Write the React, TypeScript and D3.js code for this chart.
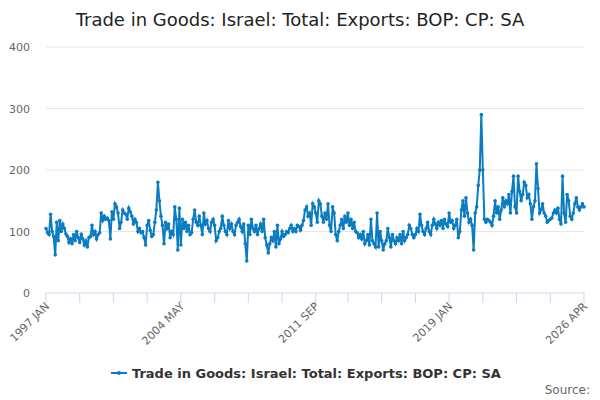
import { useMemo } from 'react';
import * as d3 from 'd3';

const startYear = 1997;
const yTicks = [0, 100, 200, 300, 400];
const tickLabels = ['1997 JAN', '2004 MAY', '2011 SEP', '2019 JAN', '2026 APR'];
const seriesName = 'Trade in Goods: Israel: Total: Exports: BOP: CP: SA';

// monthly values, one row per year
const values: number[] = [
  105, 98, 95, 128, 100, 92, 62, 115, 85, 118, 100, 112,
  105, 96, 92, 82, 88, 80, 95, 85, 100, 90, 82, 96,
  88, 78, 85, 75, 90, 92, 110, 95, 100, 88, 95, 98,
  130, 118, 125, 120, 122, 118, 88, 132, 120, 145, 140, 130,
  105, 115, 135, 130, 128, 120, 138, 132, 125, 112, 120, 115,
  100, 105, 98, 100, 90, 78, 110, 118, 102, 92, 95, 115,
  135, 180, 150, 125, 110, 80, 115, 105, 112, 90, 100, 95,
  140, 120, 70, 138, 78, 120, 105, 115, 100, 110, 95, 98,
  120, 135, 115, 110, 125, 110, 95, 130, 112, 118, 105, 100,
  115, 120, 110, 85, 90, 100, 105, 125, 110, 100, 95, 118,
  105, 112, 100, 95, 110, 115, 120, 108, 100, 112, 80, 52,
  110, 95, 120, 105, 100, 110, 95, 105, 112, 100, 120, 90,
  78, 65, 80, 90, 85, 100, 75, 110, 80, 88, 100, 92,
  95, 100, 98, 105, 110, 100, 105, 100, 110, 108, 102, 110,
  118, 135, 140, 125, 130, 110, 145, 140, 130, 115, 150, 145,
  125, 115, 130, 120, 145, 110, 100, 140, 130, 95, 85, 100,
  110, 120, 105, 125, 115, 130, 110, 120, 105, 115, 100, 98,
  90, 95, 88, 100, 80, 85, 95, 78, 120, 85, 80, 75,
  130, 75, 100, 85, 70, 80, 85, 105, 90, 75, 95, 85,
  80, 90, 85, 95, 80, 100, 85, 90, 95, 110, 105, 95,
  90, 95, 105, 100, 128, 110, 100, 95, 105, 115, 100, 95,
  110, 120, 112, 105, 115, 110, 118, 105, 120, 112, 108, 130,
  115, 118, 105, 110, 120, 90, 100, 135, 150, 125, 155, 130,
  115, 120, 110, 70, 130, 140, 175, 200, 290, 200, 120, 115,
  120, 118, 115, 110, 125, 150, 130, 140, 120, 135, 155, 140,
  150, 145, 160, 130, 165, 190, 140, 130, 190, 165, 150, 160,
  180, 175, 155, 160, 145, 120, 140, 150, 210, 170, 130, 135,
  145, 130, 125, 115, 118, 120, 122, 130, 135, 130, 138, 120,
  112, 190, 130, 115, 160, 150, 125, 120, 130, 145, 155, 140,
  135, 140, 145, 140,
];

const W = 600, H = 400;
const m = { top: 47, right: 16, bottom: 107, left: 46 };
const font = 'DejaVu Sans, sans-serif';

export default function App() {
  const n = values.length;
  const x = useMemo(() => d3.scaleLinear().domain([0, n - 1]).range([m.left, W - m.right]), [n]);
  const y = useMemo(() => d3.scaleLinear().domain([0, 400]).range([H - m.bottom, m.top]), []);
  const line = d3.line<number>().x((_, i) => x(i)).y(d => y(d));
  const ticks = d3.range(17).map(k => Math.round((k * (n - 1)) / 16));
  const y0 = y(0);
  const lbl = (i: number) => {
    const yr = startYear + Math.floor(i / 12);
    const mo = ['JAN','FEB','MAR','APR','MAY','JUN','JUL','AUG','SEP','OCT','NOV','DEC'][i % 12];
    return `${yr} ${mo}`;
  };
  return (
    <svg width={W} height={H} style={{ position: 'absolute', left: 0, top: 0, fontFamily: font }}>
      <rect width={W} height={H} fill="#fff" />
      <text x={W / 2} y={26} textAnchor="middle" fontSize={18} fill="#222">Trade in Goods: Israel: Total: Exports: BOP: CP: SA</text>
      {yTicks.map(t => (
        <g key={t}>
          {t > 0 && <line x1={m.left} x2={W - m.right} y1={y(t)} y2={y(t)} stroke="#e6e6e6" />}
          <text x={m.left - 16} y={y(t) + 4} textAnchor="end" fontSize={11} fill="#666">{t}</text>
        </g>
      ))}
      <line x1={m.left} x2={W - m.right} y1={y0} y2={y0} stroke="#ccd6eb" />
      {ticks.map((t, k) => (
        <g key={k}>
          <line x1={x(t)} x2={x(t)} y1={y0} y2={y0 + 10} stroke="#ccd6eb" />
          {k % 4 === 0 && (
            <text transform={`translate(${x(t) + 4},${y0 + 14}) rotate(-45)`} textAnchor="end" fontSize={11} fill="#666">
              {tickLabels[k / 4] ?? lbl(t)}
            </text>
          )}
        </g>
      ))}
      <path d={line(values) ?? ''} fill="none" stroke="#0a7cc1" strokeWidth={2} />
      {values.map((v, i) => <circle key={i} cx={x(i)} cy={y(v)} r={1.8} fill="#0a7cc1" />)}
      <g transform="translate(111,373)">
        <line x1={0} x2={16} y1={0} y2={0} stroke="#0a7cc1" strokeWidth={2} />
        <circle cx={8} cy={0} r={2} fill="#0a7cc1" />
        <text x={21} y={5} fontSize={13} fontWeight="bold" fill="#333">{seriesName}</text>
      </g>
      <text x={W - 10} y={394} textAnchor="end" fontSize={12} fill="#666">Source:</text>
    </svg>
  );
}
